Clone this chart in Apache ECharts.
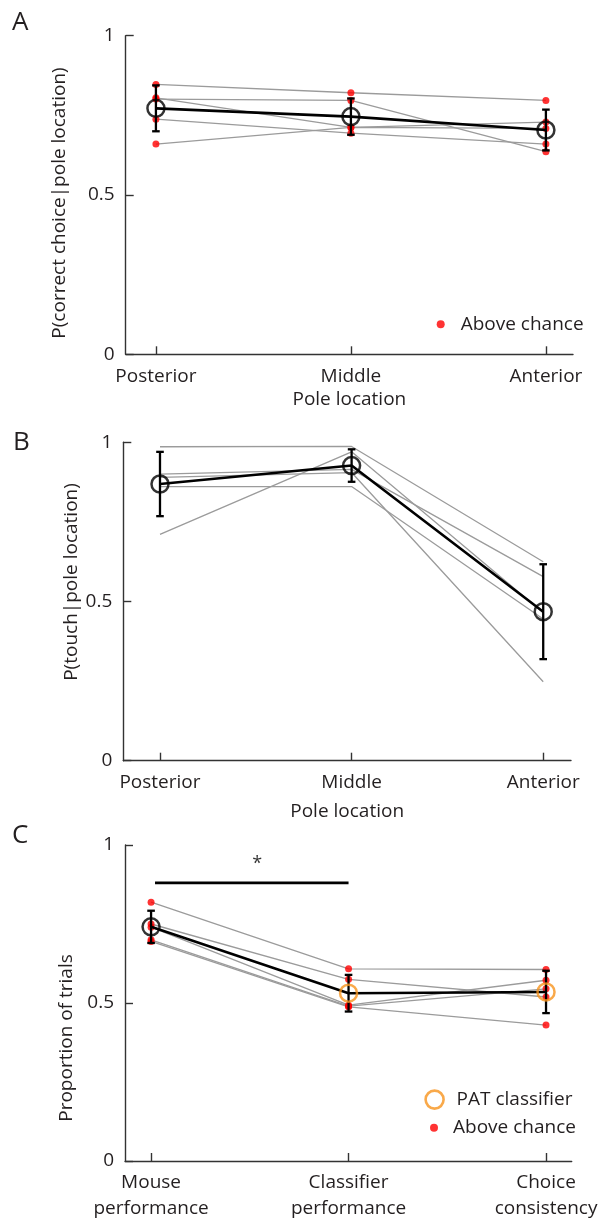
<!DOCTYPE html>
<html>
<head>
<meta charset="utf-8">
<script src="https://cdn.jsdelivr.net/npm/echarts@6/dist/echarts.min.js"></script>
<style>
  html, body { margin: 0; padding: 0; background: #fff; }
  #chart { width: 605px; height: 1222px; }
</style>
</head>
<body>
<div id="chart"></div>
<script>
const FONT = '"Open Sans", "Noto Sans", sans-serif';
const INK = '#231f20';

// Category positions shared by all three panels
const positions = [1, 2, 3];
const locationLabels = ['Posterior', 'Middle', 'Anterior'];
const measureLabels = ['Mouse\nperformance', 'Classifier\nperformance', 'Choice\nconsistency'];

// Panel A: P(correct choice | pole location), one row per mouse
const correctByMouse = [
  [0.847, 0.821, 0.797],
  [0.801, 0.797, 0.636],
  [0.805, 0.712, 0.729],
  [0.738, 0.694, 0.660],
  [0.660, 0.712, 0.709]
];
const correctMean = [0.772, 0.746, 0.704];
const correctSem = [0.072, 0.057, 0.064];

// Panel B: P(touch | pole location), one row per mouse
const touchByMouse = [
  [0.986, 0.987, 0.625],
  [0.900, 0.915, 0.578],
  [0.890, 0.905, 0.248],
  [0.861, 0.861, 0.445],
  [0.711, 0.970, 0.465]
];
const touchMean = [0.869, 0.927, 0.468];
const touchSem = [0.101, 0.051, 0.149];

// Panel C: proportion of trials, one row per mouse
const trialsByMouse = [
  [0.819, 0.608, 0.606],
  [0.750, 0.575, 0.519],
  [0.740, 0.493, 0.572],
  [0.700, 0.490, 0.545],
  [0.695, 0.488, 0.430]
];
const trialsMean = [0.741, 0.531, 0.535];
const trialsSem = [0.051, 0.058, 0.067];

// Significance bracket between mouse and classifier performance
const sigSpan = [1.02, 2.0];
const sigLevel = 0.88;
const sigStar = [1.537, 0.94];

// ---------- helpers ----------
const axisColor = '#333';

function makeGrid(left, top, width, height) {
  return { left, top, width, height, containLabel: false };
}

function makeXAxis(gridIndex, min, max, labels, name, nameGap) {
  return {
    type: 'value', gridIndex, min, max,
    axisLine: { show: true, onZero: false, lineStyle: { color: axisColor, width: 1.4 } },
    axisTick: { show: true, inside: true, length: 8, customValues: positions,
                lineStyle: { color: axisColor, width: 1.4 } },
    axisLabel: { show: true, customValues: positions, margin: 9,
                 color: INK, fontFamily: FONT, fontSize: 19, lineHeight: 26,
                 formatter: v => labels[Math.round(v) - 1] || '' },
    splitLine: { show: false },
    name: name || '',
    nameLocation: 'middle', nameGap: nameGap || 36,
    nameTextStyle: { color: INK, fontFamily: FONT, fontSize: 19 }
  };
}

function makeYAxis(gridIndex) {
  return {
    type: 'value', gridIndex, min: 0, max: 1, interval: 0.5,
    axisLine: { show: true, lineStyle: { color: axisColor, width: 1.4 } },
    axisTick: { show: true, inside: true, length: 8, lineStyle: { color: axisColor, width: 1.4 } },
    axisLabel: { color: INK, fontFamily: FONT, fontSize: 19, margin: 11,
                 formatter: v => String(v) },
    splitLine: { show: false }
  };
}

function pointsOf(row) {
  return positions.map((p, i) => [p, row[i]]);
}

function mouseLines(idx, rows) {
  return rows.map(row => ({
    type: 'line', xAxisIndex: idx, yAxisIndex: idx, data: pointsOf(row),
    symbol: 'none', silent: true, z: 2,
    lineStyle: { color: '#9b9b9b', width: 1.3 }
  }));
}

function aboveChance(idx, rows) {
  const pts = [];
  rows.forEach(row => positions.forEach((p, i) => pts.push([p, row[i]])));
  return {
    name: 'Above chance', type: 'scatter', xAxisIndex: idx, yAxisIndex: idx,
    data: pts, symbol: 'circle', symbolSize: 7, silent: true, z: 3,
    itemStyle: { color: '#ff0000' }
  };
}

function meanLine(idx, mean) {
  return {
    type: 'line', xAxisIndex: idx, yAxisIndex: idx, data: pointsOf(mean),
    symbol: 'none', silent: true, z: 4,
    lineStyle: { color: '#000', width: 2.6 }
  };
}

function errorBarItem(params, api) {
  const x = api.value(0);
  const top = api.coord([x, api.value(2)]);
  const bot = api.coord([x, api.value(1)]);
  const cap = 3.8;
  const style = { stroke: '#000', lineWidth: 2.3 };
  return {
    type: 'group',
    children: [
      { type: 'line', shape: { x1: top[0], y1: top[1], x2: bot[0], y2: bot[1] }, style },
      { type: 'line', shape: { x1: top[0] - cap, y1: top[1], x2: top[0] + cap, y2: top[1] }, style },
      { type: 'line', shape: { x1: bot[0] - cap, y1: bot[1], x2: bot[0] + cap, y2: bot[1] }, style }
    ]
  };
}

function errorBars(idx, mean, sem) {
  return {
    type: 'custom', xAxisIndex: idx, yAxisIndex: idx, silent: true, z: 5,
    renderItem: errorBarItem,
    encode: { x: 0, y: [1, 2] },
    data: positions.map((p, i) => [p, mean[i] - sem[i], mean[i] + sem[i]])
  };
}

function meanCircles(idx, pts, color, name) {
  return {
    name: name || undefined,
    type: 'scatter', xAxisIndex: idx, yAxisIndex: idx, data: pts,
    symbol: 'circle', symbolSize: 17, silent: true, z: 6,
    itemStyle: { color: 'rgba(0,0,0,0)', borderColor: color, borderWidth: 2.5 }
  };
}

const ORANGE = '#f7941d';

const series = [
  // Panel A
  ...mouseLines(0, correctByMouse),
  aboveChance(0, correctByMouse),
  meanLine(0, correctMean),
  errorBars(0, correctMean, correctSem),
  meanCircles(0, pointsOf(correctMean), '#000'),
  // Panel B
  ...mouseLines(1, touchByMouse),
  meanLine(1, touchMean),
  errorBars(1, touchMean, touchSem),
  meanCircles(1, pointsOf(touchMean), '#000'),
  // Panel C
  ...mouseLines(2, trialsByMouse),
  aboveChance(2, trialsByMouse),
  meanLine(2, trialsMean),
  errorBars(2, trialsMean, trialsSem),
  meanCircles(2, [[positions[0], trialsMean[0]]], '#000'),
  meanCircles(2, positions.slice(1).map((p, i) => [p, trialsMean[i + 1]]), ORANGE, 'PAT classifier'),
  {
    type: 'line', xAxisIndex: 2, yAxisIndex: 2, symbol: 'none', silent: true, z: 4,
    data: sigSpan.map(x => [x, sigLevel]),
    lineStyle: { color: '#000', width: 2.6 }
  },
  {
    type: 'scatter', xAxisIndex: 2, yAxisIndex: 2, symbolSize: 1, silent: true,
    itemStyle: { color: 'rgba(0,0,0,0)' },
    data: [sigStar],
    label: { show: true, position: 'inside', formatter: '*', color: '#000',
             fontFamily: FONT, fontSize: 18 }
  }
];

function legendText(gap) {
  return { color: INK, fontFamily: FONT, fontSize: 19, lineHeight: 20, padding: [0, 0, 0, gap] };
}

const option = {
  backgroundColor: '#fff',
  animation: false,
  grid: [
    makeGrid(125.7, 35.7, 447.3, 318.6),
    makeGrid(123.3, 442.3, 447.7, 318.4),
    makeGrid(125, 845, 446.7, 319)
  ],
  xAxis: [
    makeXAxis(0, 0.845, 3.139, locationLabels, 'Pole location', 36),
    makeXAxis(1, 0.8085, 3.145, locationLabels, 'Pole location', 41),
    makeXAxis(2, 0.868, 3.13, measureLabels, '')
  ],
  yAxis: [makeYAxis(0), makeYAxis(1), makeYAxis(2)],
  legend: [
    {
      left: 436.7, top: 314.3, padding: 0, itemWidth: 8, itemHeight: 8,
      selectedMode: false, textStyle: legendText(11),
      data: [{ name: 'Above chance', icon: 'circle', itemStyle: { color: '#ff0000' } }]
    },
    {
      left: 424.3, top: 1089.3, padding: 0, itemWidth: 18, itemHeight: 18,
      selectedMode: false, textStyle: legendText(8),
      data: [{ name: 'PAT classifier', icon: 'circle',
               itemStyle: { color: '#fff', borderColor: ORANGE, borderWidth: 2.6 } }]
    },
    {
      left: 430, top: 1117.7, padding: 0, itemWidth: 8, itemHeight: 8,
      selectedMode: false, textStyle: legendText(10),
      data: [{ name: 'Above chance', icon: 'circle', itemStyle: { color: '#ff0000' } }]
    }
  ],
  graphic: [
    { type: 'text', left: 12, top: 10, style: { text: 'A', font: '26px ' + FONT, fill: INK } },
    { type: 'text', left: 13, top: 430, style: { text: 'B', font: '26px ' + FONT, fill: INK } },
    { type: 'text', left: 12, top: 823, style: { text: 'C', font: '26px ' + FONT, fill: INK } },
    { type: 'text', x: 60, y: 203, rotation: Math.PI / 2,
      style: { text: 'P(correct choice|pole location)', font: '19px ' + FONT, fill: INK,
               textAlign: 'center', textVerticalAlign: 'middle' } },
    { type: 'text', x: 72, y: 582, rotation: Math.PI / 2,
      style: { text: 'P(touch|pole location)', font: '19px ' + FONT, fill: INK,
               textAlign: 'center', textVerticalAlign: 'middle' } },
    { type: 'text', x: 67, y: 1038, rotation: Math.PI / 2,
      style: { text: 'Proportion of trials', font: '19px ' + FONT, fill: INK,
               textAlign: 'center', textVerticalAlign: 'middle' } }
  ],
  series
};

const chart = echarts.init(document.getElementById('chart'), null, { renderer: 'canvas' });
chart.setOption(option);
</script>
</body>
</html>
